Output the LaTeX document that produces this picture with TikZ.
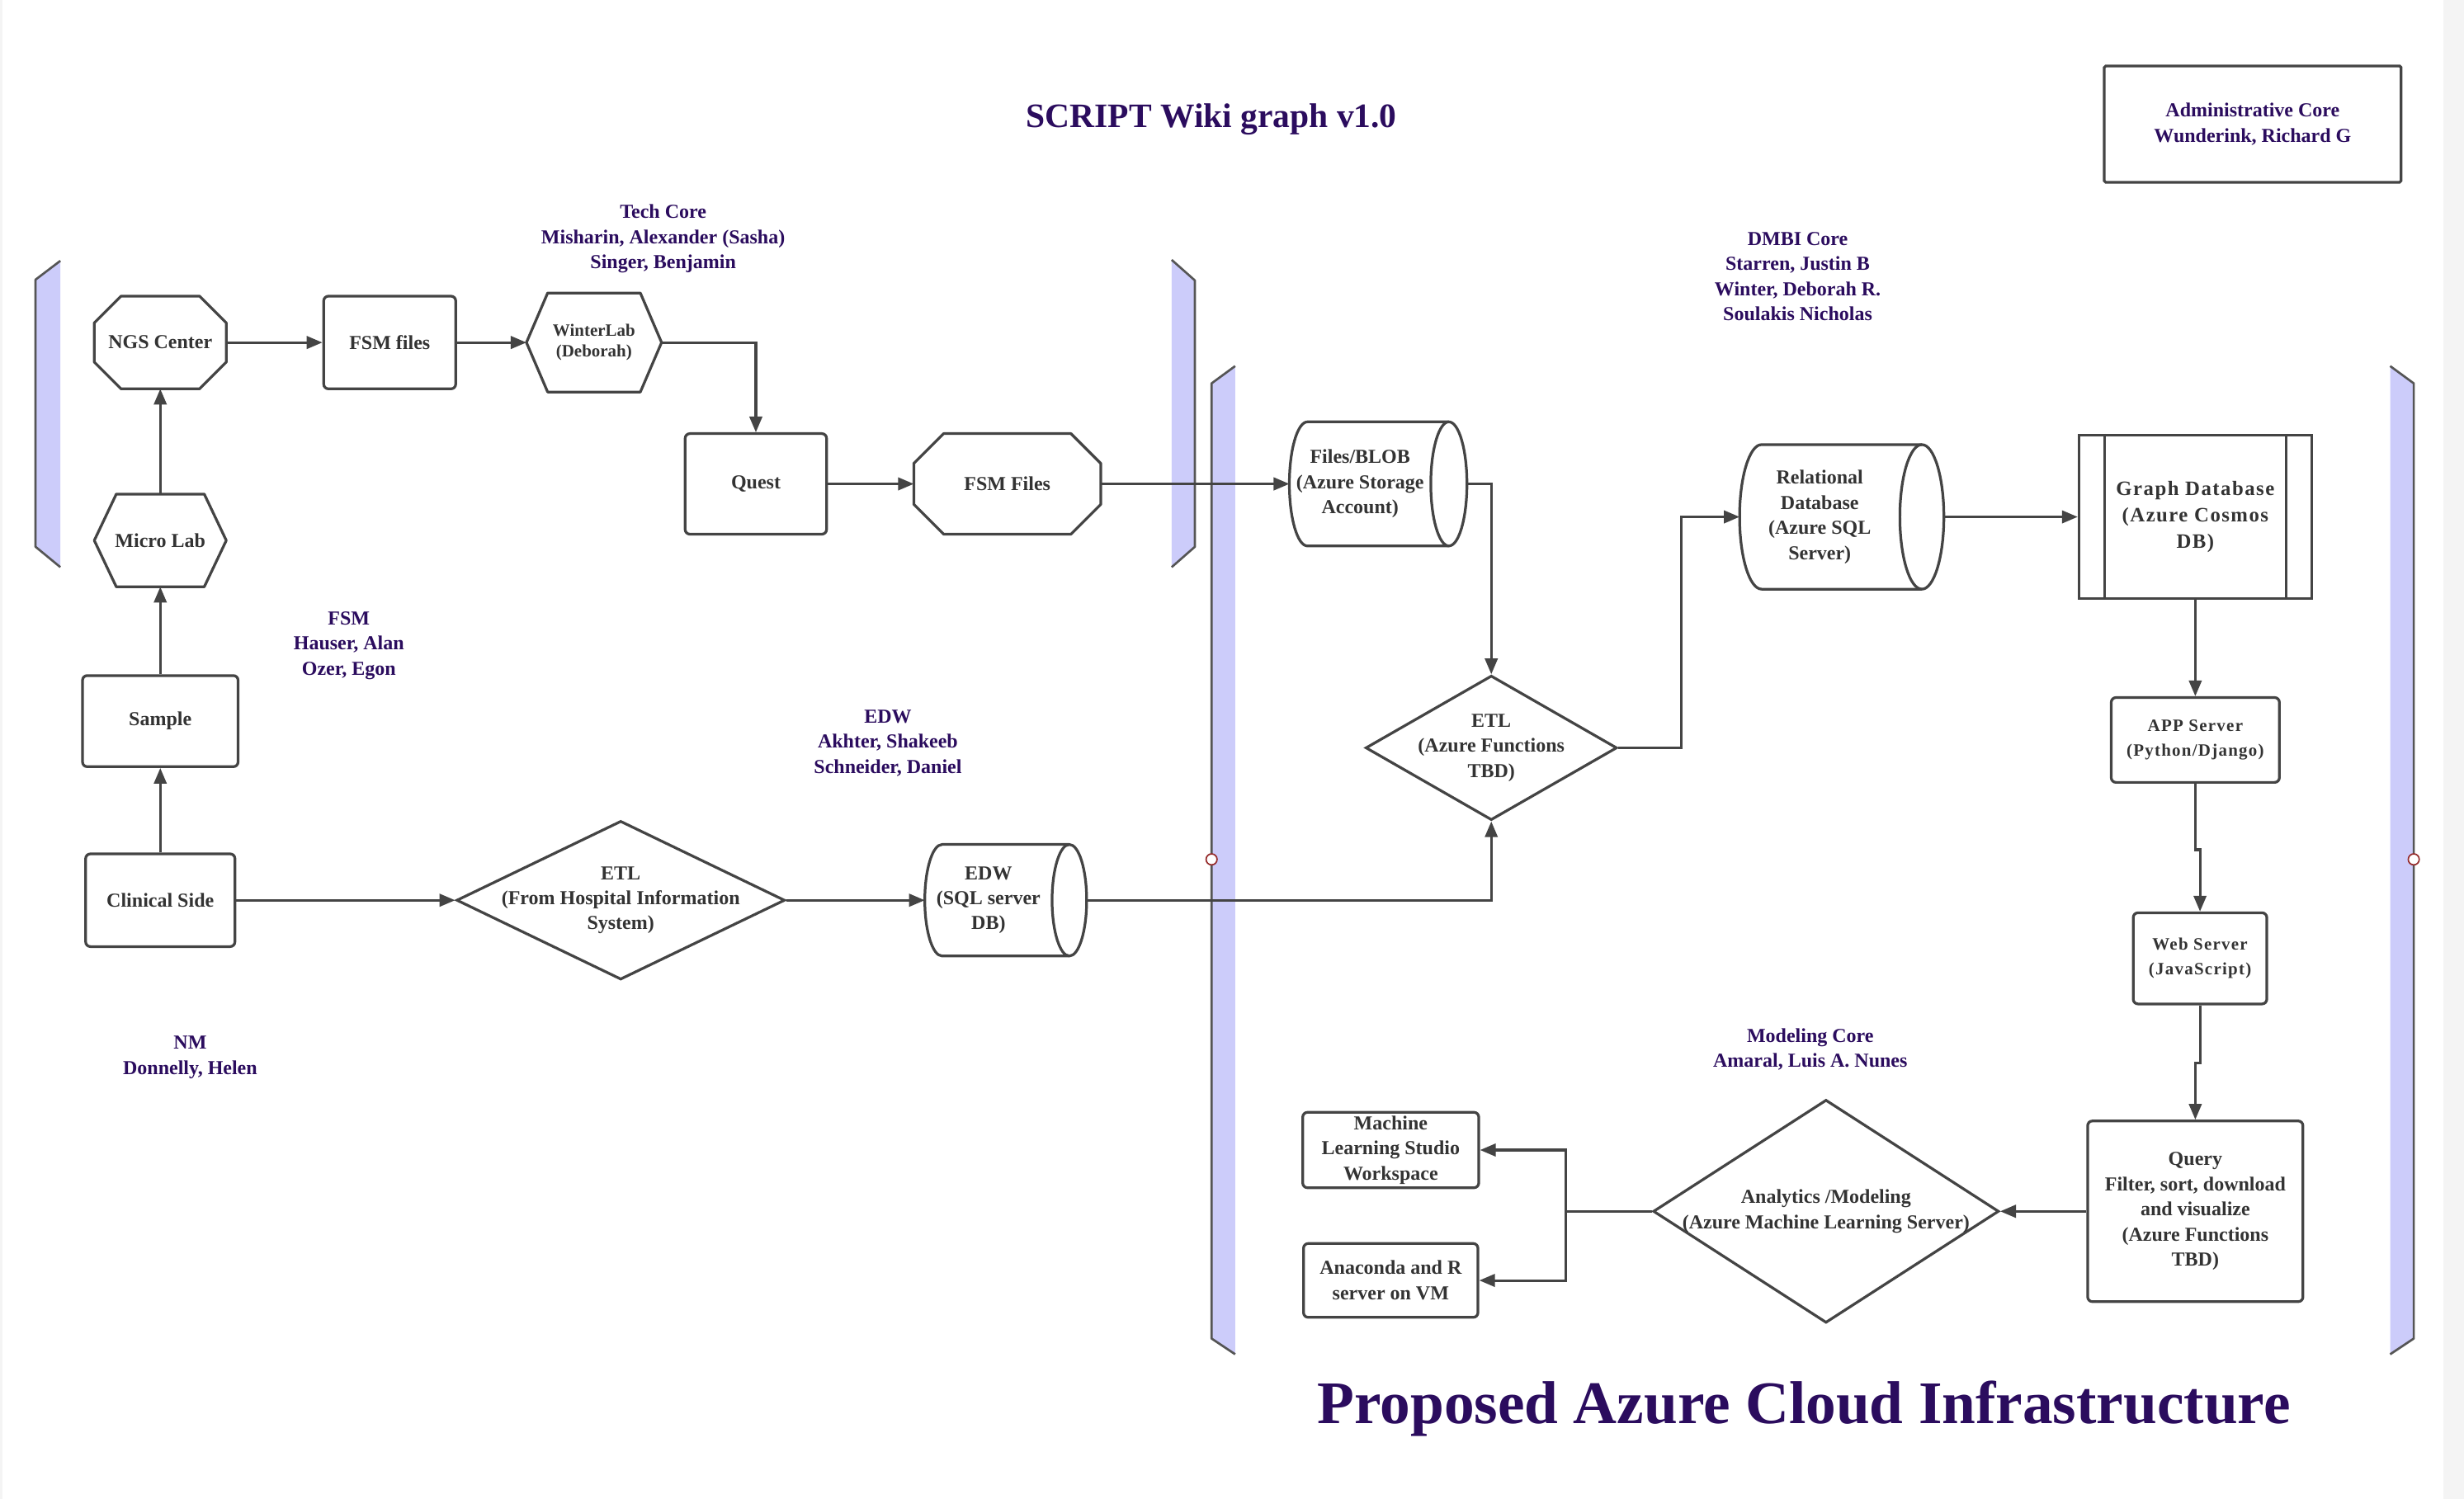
\documentclass[tikz,border=0pt]{standalone}
\usepackage{fontspec}
\setmainfont{Liberation Serif}
\newfontfamily\spacedfam[LetterSpace=6]{Liberation Serif}
\usetikzlibrary{shapes.geometric, arrows.meta}

\definecolor{linegray}{RGB}{68,68,68}
\definecolor{textgray}{RGB}{51,51,51}
\definecolor{teampurple}{RGB}{43,12,94}
\definecolor{lanefill}{RGB}{204,204,250}
\definecolor{lanegray}{RGB}{85,85,85}
\definecolor{pinred}{RGB}{150,45,45}
\definecolor{pagegray}{RGB}{244,244,244}

\newcommand{\boxfont}{\fontsize{12.6}{16}\selectfont\bfseries}
\newcommand{\smallboxfont}{\fontsize{11}{13}\selectfont\bfseries}
\newcommand{\spacedfont}{\spacedfam\fontsize{11}{16}\selectfont\bfseries}
\newcommand{\spacedbigfont}{\spacedfam\fontsize{13}{17}\selectfont\bfseries}
\newcommand{\wikititlefont}{\fontsize{21.8}{26}\selectfont\bfseries}
\newcommand{\cloudtitlefont}{\fontsize{38.5}{44}\selectfont\bfseries}

% outlines drawn round plain nodes
\newcommand{\octline}[2]{%
	\draw[outline] ([xshift=#2]#1.north west) -- ([xshift=-#2]#1.north east) -- ([yshift=-#2]#1.north east) -- ([yshift=#2]#1.south east) -- ([xshift=-#2]#1.south east) -- ([xshift=#2]#1.south west) -- ([yshift=#2]#1.south west) -- ([yshift=-#2]#1.north west) -- cycle;}
\newcommand{\hexline}[2]{%
	\draw[outline] (#1.west) -- ([xshift=#2]#1.north west) -- ([xshift=-#2]#1.north east) -- (#1.east) -- ([xshift=-#2]#1.south east) -- ([xshift=#2]#1.south west) -- cycle;}
\newcommand{\cylline}[3]{%
	\draw[outline] ([xshift=#2]#1.north west) -- ([xshift=-#2]#1.north east) arc[start angle=90, end angle=-90, x radius=#2, y radius=#3] -- ([xshift=#2]#1.south west) arc[start angle=270, end angle=90, x radius=#2, y radius=#3] -- cycle;
	\draw[outline] ([xshift=-#2]#1.north east) arc[start angle=90, end angle=270, x radius=#2, y radius=#3];}

\tikzset{
	box/.style={
		draw=linegray,
		line width=1.7pt,
		rounded corners=3pt,
		text=textgray,
		align=center,
		font=\boxfont,
		inner sep=2pt
	},
	plain/.style={
		draw=none,
		text=textgray,
		align=center,
		font=\boxfont,
		outer sep=0pt
	},
	outline/.style={draw=linegray, line width=1.7pt, line join=round},
	decision/.style={diamond, draw=linegray, line width=1.7pt, inner sep=0pt},
	inside/.style={text=textgray, align=center, font=\boxfont},
	team/.style={text=teampurple, align=center, font=\boxfont},
	flow/.style={draw=linegray, line width=1.6pt, -{Triangle[length=10pt, width=8pt]}},
	laneedge/.style={draw=lanegray, line width=1.4pt, line join=round},
	pin/.style={circle, draw=pinred, fill=white, line width=0.9pt, inner sep=0pt, minimum size=7pt}
}

\begin{document}
\begin{tikzpicture}[x=1pt, y=-1pt]
\useasboundingbox (0,0) rectangle (1568,954);
\fill[pagegray] (0,0) rectangle (1568,954);
\fill[white] (1.5,0) rectangle (1555,954);

\foreach \l/\f/\ta/\tb/\ba/\bb in {22.6/38.4/166/178/348/361, 760.4/745.6/165.4/178.5/348/361, 771/786/233/244/852/862, 1536/1521/233/244/852/862} {
	\fill[lanefill] (\f,\ta) -- (\l,\tb) -- (\l,\ba) -- (\f,\bb) -- cycle;
	\draw[laneedge] (\f,\ta) -- (\l,\tb) -- (\l,\ba) -- (\f,\bb);
}
\node[pin] (pinleft) at (771,547) {};
\node[pin] (pinright) at (1536,547) {};

\node[team, font=\wikititlefont, anchor=base] (wikititle) at (771,81) {SCRIPT Wiki graph v1.0};
\node[box, rounded corners=1pt, minimum width=189pt, minimum height=74pt, text=teampurple] (admin) at (1433.5,79) {Administrative Core\\Wunderink, Richard G};

\node[team] (techcore) at (422,152) {Tech Core\\Misharin, Alexander (Sasha)\\Singer, Benjamin};
\node[team] (dmbicore) at (1144,176) {DMBI Core\\Starren, Justin B\\Winter, Deborah R.\\Soulakis Nicholas};
\node[team] (fsmteam) at (222,411) {FSM\\Hauser, Alan\\Ozer, Egon};
\node[team] (edwteam) at (565,473) {EDW\\Akhter, Shakeeb\\Schneider, Daniel};
\node[team] (nmteam) at (121,673) {NM\\Donnelly, Helen};
\node[team] (modelingcore) at (1152,668) {Modeling Core\\Amaral, Luis A. Nunes};

\node[plain, minimum width=84pt, minimum height=59pt] (ngs) at (102,218) {NGS Center};
\node[plain, minimum width=84pt, minimum height=59pt] (micro) at (102,344) {Micro Lab};
\node[box, minimum width=84pt, minimum height=59pt] (fsmfiles) at (248,218) {FSM files};
\node[plain, minimum width=86pt, minimum height=63pt, font=\smallboxfont] (winter) at (378,218) {WinterLab\\(Deborah)};
\node[box, minimum width=90pt, minimum height=64pt] (quest) at (481,308) {Quest};
\node[plain, minimum width=119pt, minimum height=64pt] (fsmout) at (641,308) {FSM Files};
\node[box, minimum width=99pt, minimum height=58pt] (sample) at (102,459) {Sample};
\node[box, minimum width=95pt, minimum height=59pt] (clinical) at (102,573) {Clinical Side};
\node[decision, minimum width=209pt, minimum height=101pt, label={[inside]center:{ETL\\(From Hospital Information\\System)}}] (etlhis) at (395,573) {};
\node[plain, minimum width=103pt, minimum height=71pt, label={[inside, xshift=-11pt]center:{EDW\\(SQL server\\DB)}}] (edw) at (640,573) {};
\node[plain, minimum width=113pt, minimum height=79pt, label={[inside, xshift=-11.5pt]center:{Files/BLOB\\(Azure Storage\\Account)}}] (blob) at (877,308) {};
\node[decision, minimum width=160pt, minimum height=92pt, label={[inside]center:{ETL\\(Azure Functions\\TBD)}}] (etlazure) at (949,476) {};
\node[plain, minimum width=130pt, minimum height=92pt, label={[inside, xshift=-14pt]center:{Relational\\Database\\(Azure SQL\\Server)}}] (reldb) at (1172,329) {};
\node[box, rounded corners=0pt, minimum width=148pt, minimum height=104pt, font=\spacedbigfont] (graphdb) at (1397,329) {Graph Database\\(Azure Cosmos\\DB)};
\node[box, minimum width=107pt, minimum height=54pt, font=\spacedfont] (appserver) at (1397,471) {APP Server\\(Python/Django)};
\node[box, minimum width=85pt, minimum height=58pt, font=\spacedfont] (webserver) at (1400,610) {Web Server\\(JavaScript)};
\node[box, minimum width=137pt, minimum height=115pt] (query) at (1397,771) {Query\\Filter, sort, download\\and visualize\\(Azure Functions\\TBD)};
\node[decision, minimum width=220pt, minimum height=142pt, label={[inside]center:{Analytics /Modeling\\(Azure Machine Learning Server)}}] (analytics) at (1162,771) {};
\node[box, minimum width=112pt, minimum height=48pt] (mlstudio) at (885,732) {Machine\\Learning Studio\\Workspace};
\node[box, minimum width=111pt, minimum height=47pt] (anaconda) at (885,815) {Anaconda and R\\server on VM};

\octline{ngs}{17pt}
\hexline{micro}{14pt}
\hexline{winter}{13.5pt}
\octline{fsmout}{19pt}
\cylline{edw}{11pt}{35.5pt}
\cylline{blob}{11.5pt}{39.5pt}
\cylline{reldb}{14pt}{46pt}
\draw[outline] ([xshift=17pt]graphdb.north west) -- ([xshift=17pt]graphdb.south west);
\draw[outline] ([xshift=-17pt]graphdb.north east) -- ([xshift=-17pt]graphdb.south east);

\draw[flow] (micro.north) -- (ngs.south);
\draw[flow] (sample.north) -- (micro.south);
\draw[flow] (clinical.north) -- (sample.south);
\draw[flow] (ngs.east) -- (fsmfiles.west);
\draw[flow] (fsmfiles.east) -- (winter.west);
\draw[flow] (winter.east) -| (quest.north);
\draw[flow] (quest.east) -- (fsmout.west);
\draw[flow] (fsmout.east) -- (blob.west);
\draw[flow] (blob.east) -| (etlazure.north);
\draw[flow] (clinical.east) -- (etlhis.west);
\draw[flow] (etlhis.east) -- (edw.west);
\draw[flow] (edw.east) -| (etlazure.south);
\draw[flow] (etlazure.east) -- ++(40,0) |- (reldb.west);
\draw[flow] (reldb.east) -- (graphdb.west);
\draw[flow] (graphdb.south) -- (appserver.north);
\draw[flow] (appserver.south) -- ++(0,42) -| (webserver.north);
\draw[flow] (webserver.south) -- ++(0,37) -| (query.north);
\draw[flow] (query.west) -- (analytics.east);
\draw[flow] (analytics.west) -- ++(-55,0) |- (mlstudio.east);
\draw[flow] (analytics.west) -- ++(-55,0) |- (anaconda.east);

\node[team, font=\cloudtitlefont, anchor=base] (cloudtitle) at (1148,906) {Proposed Azure Cloud Infrastructure};
\end{tikzpicture}
\end{document}
